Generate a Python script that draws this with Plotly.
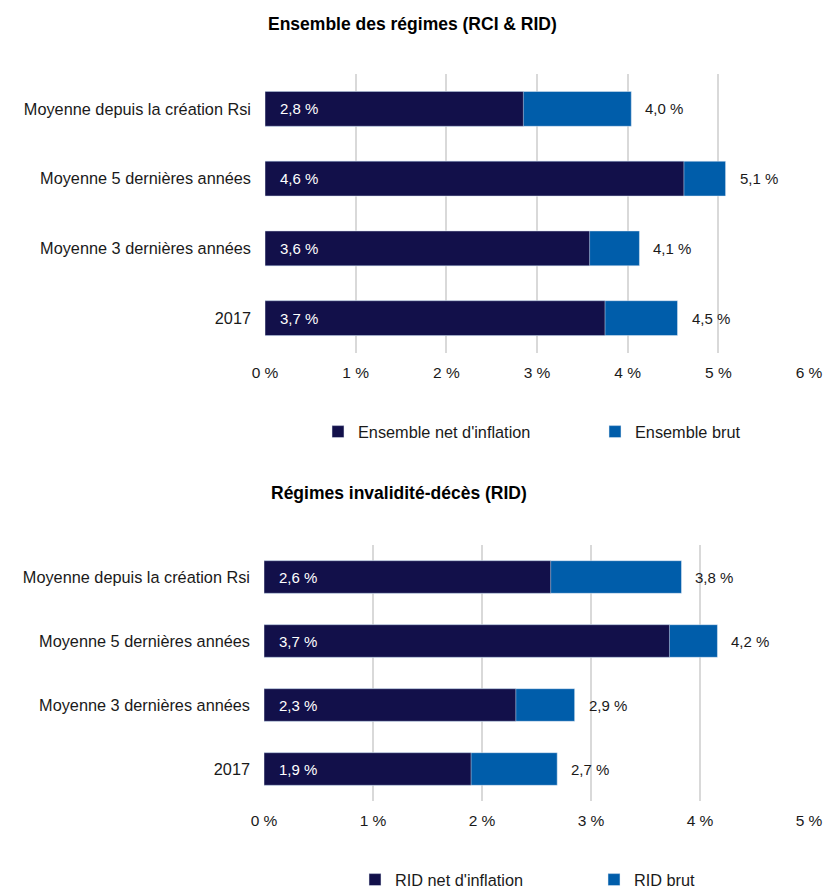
import plotly.graph_objects as go

categories = ["Moyenne depuis la création Rsi", "Moyenne 5 dernières années",
              "Moyenne 3 dernières années", "2017"]

# Ensemble des régimes (RCI & RID)
ens_net = [2.85, 4.62, 3.58, 3.75]
ens_brut = [4.04, 5.08, 4.13, 4.55]
ens_net_labels = ["2,8 %", "4,6 %", "3,6 %", "3,7 %"]
ens_brut_labels = ["4,0 %", "5,1 %", "4,1 %", "4,5 %"]

# Régimes invalidité-décès (RID)
rid_net = [2.63, 3.72, 2.31, 1.90]
rid_brut = [3.83, 4.16, 2.85, 2.69]
rid_net_labels = ["2,6 %", "3,7 %", "2,3 %", "1,9 %"]
rid_brut_labels = ["3,8 %", "4,2 %", "2,9 %", "2,7 %"]

top_tickvals = [0, 1, 2, 3, 4, 5, 6]
top_ticktext = ["0 %", "1 %", "2 %", "3 %", "4 %", "5 %", "6 %"]
bot_tickvals = [0, 1, 2, 3, 4, 5]
bot_ticktext = ["0 %", "1 %", "2 %", "3 %", "4 %", "5 %"]

NAVY = "#12104A"
BLUE = "#005DAA"
TXT = "#1a1a1a"
FONT = "Liberation Sans, Arial, sans-serif"
W, H = 825, 888

def py(p):
    return 1 - p / H

pos = list(range(len(categories)))  # category slots (0 = top)

fig = go.Figure()

# top chart
fig.add_trace(go.Bar(y=pos, x=ens_brut, orientation="h", marker_color=BLUE,
                     width=0.5, name="Ensemble brut", xaxis="x", yaxis="y",
                     legend="legend", legendrank=2, hoverinfo="skip"))
fig.add_trace(go.Bar(y=pos, x=ens_net, orientation="h", marker_color=NAVY,
                     width=0.5, name="Ensemble net d'inflation", xaxis="x", yaxis="y",
                     legend="legend", legendrank=1, hoverinfo="skip"))
# bottom chart
fig.add_trace(go.Bar(y=pos, x=rid_brut, orientation="h", marker_color=BLUE,
                     width=0.51, name="RID brut", xaxis="x2", yaxis="y2",
                     legend="legend2", legendrank=2, hoverinfo="skip"))
fig.add_trace(go.Bar(y=pos, x=rid_net, orientation="h", marker_color=NAVY,
                     width=0.51, name="RID net d'inflation", xaxis="x2", yaxis="y2",
                     legend="legend2", legendrank=1, hoverinfo="skip"))

annotations = []
for xa, ya, nets, bruts, nl, bl in [("x", "y", ens_net, ens_brut, ens_net_labels, ens_brut_labels),
                                     ("x2", "y2", rid_net, rid_brut, rid_net_labels, rid_brut_labels)]:
    for p, n, b, tn, tb in zip(pos, nets, bruts, nl, bl):
        annotations.append(dict(x=0, y=p, xref=xa, yref=ya, text=tn, showarrow=False,
                                xanchor="left", yanchor="middle", xshift=13,
                                font=dict(color="white", size=15, family=FONT)))
        annotations.append(dict(x=b, y=p, xref=xa, yref=ya, text=tb, showarrow=False,
                                xanchor="left", yanchor="middle", xshift=12,
                                font=dict(color=TXT, size=15, family=FONT)))

annotations.append(dict(x=412 / W, y=py(24), xref="paper", yref="paper", showarrow=False,
                        xanchor="center", yanchor="middle",
                        text="<b>Ensemble des régimes (RCI & RID)</b>",
                        font=dict(size=17.5, color="#000000", family=FONT)))
annotations.append(dict(x=399 / W, y=py(493), xref="paper", yref="paper", showarrow=False,
                        xanchor="center", yanchor="middle",
                        text="<b>Régimes invalidité-décès (RID)</b>",
                        font=dict(size=17.5, color="#000000", family=FONT)))

axis_common = dict(showgrid=True, gridcolor="#D9D9D9", gridwidth=1.5, zeroline=False,
                   showline=False, ticks="", tickfont=dict(size=15.5, color=TXT, family=FONT),
                   tickmode="array", ticklabelstandoff=8, fixedrange=True, automargin=False)
yaxis_common = dict(type="linear", showgrid=False, zeroline=False, showline=False, ticks="",
                    tickmode="array", tickvals=pos, ticktext=categories,
                    range=[len(categories) - 0.5, -0.5],
                    tickfont=dict(size=16.3, color=TXT, family=FONT),
                    ticklabelstandoff=13, fixedrange=True, automargin=False)

fig.update_layout(
    width=W, height=H,
    margin=dict(l=0, r=0, t=0, b=0, autoexpand=False),
    paper_bgcolor="white", plot_bgcolor="white",
    barmode="overlay",
    font=dict(family=FONT, size=15, color=TXT),
    xaxis=dict(domain=[265 / W, 809 / W], range=[0, 6], tickvals=top_tickvals, ticktext=top_ticktext,
               anchor="y", **axis_common),
    yaxis=dict(domain=[py(353), py(74)], anchor="x", **yaxis_common),
    xaxis2=dict(domain=[264 / W, 809 / W], range=[0, 5], tickvals=bot_tickvals, ticktext=bot_ticktext,
                anchor="y2", **axis_common),
    yaxis2=dict(domain=[py(801), py(545)], anchor="x2", **yaxis_common),
    legend=dict(orientation="h", x=318 / W, xanchor="left", y=py(432), yanchor="middle",
                entrywidth=232, entrywidthmode="pixels", traceorder="normal",
                font=dict(size=16.3, color=TXT, family=FONT), bgcolor="rgba(0,0,0,0)"),
    legend2=dict(orientation="h", x=355 / W, xanchor="left", y=py(880), yanchor="middle",
                 entrywidth=194, entrywidthmode="pixels", traceorder="normal",
                 font=dict(size=16.3, color=TXT, family=FONT), bgcolor="rgba(0,0,0,0)"),
    annotations=annotations,
    showlegend=True,
)

fig.write_html("out.html", config={"displayModeBar": False},
               post_script="document.body.style.margin='0';")
